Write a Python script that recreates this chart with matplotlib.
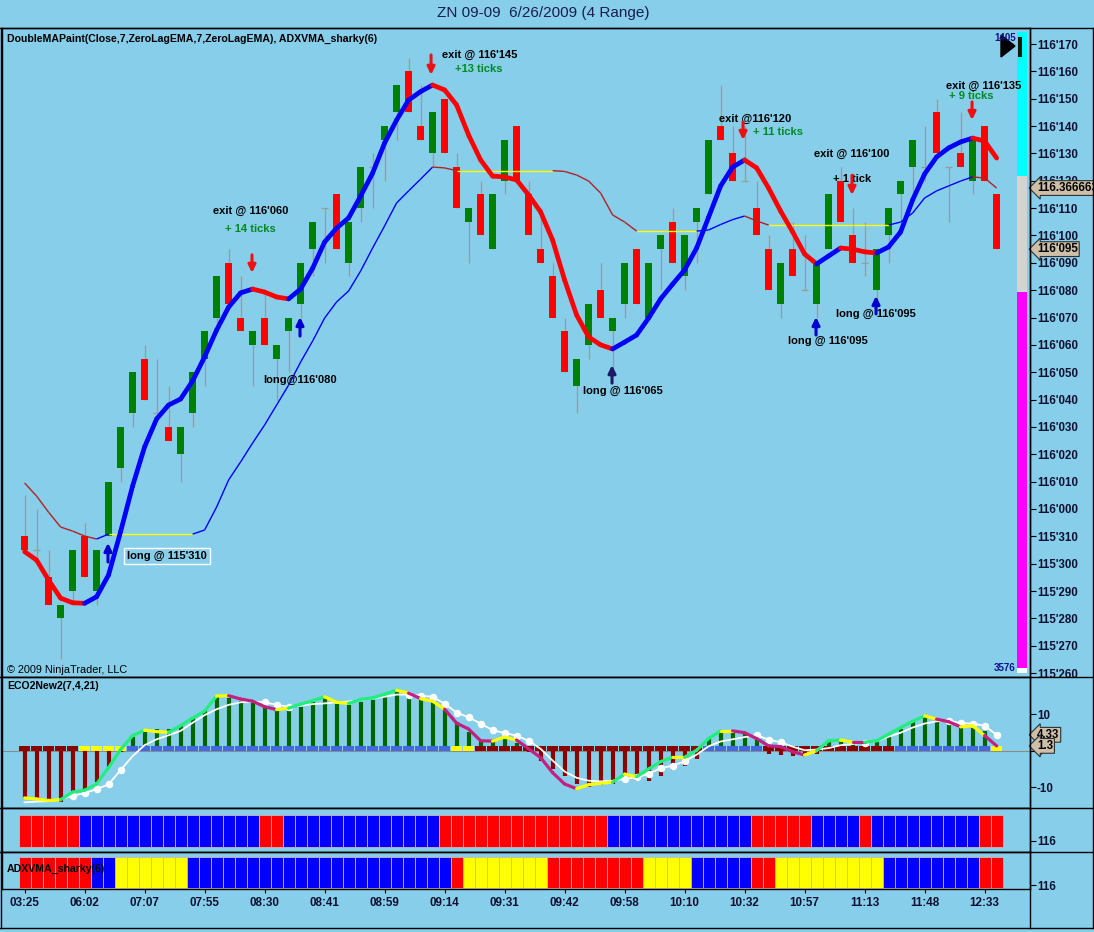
import numpy as np
import matplotlib
matplotlib.use("Agg")
import matplotlib.pyplot as plt
from matplotlib.collections import LineCollection
from matplotlib.patches import Rectangle, Polygon

# ---- price bars (prices in 32nds: 116'095 -> 116*32 + 9.5) ----
opens = [3711, 3710.5, 3709.5, 3708, 3709, 3711, 3709, 3711, 3713.5, 3715.5,
         3717.5, 3715.5, 3715, 3714, 3715.5, 3717.5, 3719, 3721, 3719, 3718,
         3719, 3717.5, 3718.5, 3719.5, 3721.5, 3723, 3723.5, 3721, 3723, 3724.5,
         3725.5, 3726.5, 3728, 3726, 3725, 3727, 3724.5, 3722.5, 3723.5, 3721.5,
         3724, 3726, 3723.5, 3721.5, 3720.5, 3718.5, 3716.5, 3718, 3720, 3718.5,
         3719.5, 3721.5, 3719, 3721.5, 3722.5, 3720.5, 3722.5, 3723.5, 3726, 3725,
         3724, 3723, 3721.5, 3719.5, 3721.5, 3720, 3719.5, 3721.5, 3724, 3722,
         3721, 3720, 3722, 3723.5, 3724.5, 3724.5, 3726.5, 3724.5, 3725, 3724,
         3726, 3723.5]
highs = [3712.5, 3712, 3710.5, 3708.5, 3710.5, 3711.5, 3710.5, 3713, 3715, 3717,
         3718, 3717.5, 3716.5, 3715, 3717, 3718.5, 3720.5, 3721.5, 3720.5, 3718.5,
         3720, 3718, 3719, 3721, 3722.5, 3723, 3723.5, 3722.5, 3724.5, 3725,
         3726, 3727.5, 3728.5, 3727.5, 3726.5, 3727, 3725, 3723, 3724, 3723.5,
         3725.5, 3726, 3724, 3723, 3721, 3719, 3717.5, 3719.5, 3721, 3719,
         3721, 3721.5, 3721, 3722, 3723, 3722, 3723, 3725.5, 3727.5, 3726,
         3726, 3724, 3722, 3721, 3722.5, 3722, 3721, 3723.5, 3724.5, 3723,
         3722.5, 3721.5, 3723, 3724, 3725.5, 3726, 3727, 3724.5, 3726.5, 3725.5,
         3726, 3723.5]
lows = [3710.5, 3710, 3708.5, 3706.5, 3708.5, 3709.5, 3708.5, 3711, 3713, 3715,
        3716, 3715.5, 3714.5, 3713, 3715, 3716.5, 3718.5, 3719.5, 3718.5, 3716.5,
        3718, 3716, 3717, 3719, 3720.5, 3721, 3721.5, 3720.5, 3722.5, 3723,
        3724, 3725.5, 3726.5, 3725.5, 3724.5, 3725, 3723, 3721, 3722, 3721.5,
        3723.5, 3724, 3722, 3721, 3719, 3717, 3715.5, 3717.5, 3719, 3717,
        3719, 3719.5, 3719, 3720, 3721, 3720, 3721, 3723.5, 3725.5, 3724,
        3724, 3722, 3720, 3719, 3720.5, 3720, 3719, 3721.5, 3722.5, 3721,
        3720.5, 3719.5, 3721, 3722, 3723.5, 3724, 3725, 3722.5, 3724.5, 3723.5,
        3724, 3721.5]
closes = [3710.5, 3710.5, 3708.5, 3708.5, 3710.5, 3709.5, 3710.5, 3713, 3715, 3717,
          3716, 3715.5, 3714.5, 3715, 3717, 3718.5, 3720.5, 3719.5, 3718.5, 3718.5,
          3718, 3718, 3719, 3721, 3722.5, 3723, 3721.5, 3722.5, 3724.5, 3724.5,
          3726, 3727.5, 3726.5, 3725.5, 3726.5, 3725, 3723, 3723, 3722, 3723.5,
          3725.5, 3724, 3722, 3721, 3719, 3717, 3717.5, 3719.5, 3719, 3719,
          3721, 3719.5, 3721, 3722, 3721, 3722, 3723, 3725.5, 3725.5, 3724,
          3724, 3722, 3720, 3721, 3720.5, 3720, 3721, 3723.5, 3722.5, 3721,
          3721, 3721.5, 3723, 3724, 3725.5, 3724.5, 3725, 3724.5, 3724.5, 3725.5,
          3724, 3721.5]

# DoubleMAPaint (ZeroLagEMA 7) and ADXVMA_sharky(6)
fast_ma = [3710.44, 3710.13, 3709.40, 3708.74, 3708.57, 3708.55, 3708.79, 3709.59, 3711.17, 3712.84,
           3714.27, 3715.29, 3715.80, 3716.02, 3716.68, 3717.56, 3718.54, 3719.38, 3719.90, 3720.04,
           3719.93, 3719.75, 3719.68, 3720.04, 3720.80, 3721.76, 3722.27, 3722.64, 3723.44, 3724.28,
           3725.38, 3726.22, 3726.95, 3727.26, 3727.50, 3727.32, 3726.77, 3725.67, 3724.76, 3724.17,
           3724.14, 3724.03, 3723.48, 3722.86, 3721.83, 3720.37, 3719.09, 3718.29, 3718.00, 3717.85,
           3718.10, 3718.36, 3718.98, 3719.68, 3720.22, 3720.74, 3721.54, 3722.67, 3723.81, 3724.50,
           3724.76, 3724.47, 3723.73, 3722.89, 3722.13, 3721.32, 3720.96, 3721.25, 3721.54, 3721.50,
           3721.40, 3721.36, 3721.58, 3722.13, 3723.30, 3724.25, 3724.87, 3725.20, 3725.42, 3725.56,
           3725.45, 3724.83]
adxvma = [3712.95, 3712.47, 3711.88, 3711.34, 3711.19, 3711.01, 3710.90, 3711.08, 3711.08, 3711.08,
          3711.08, 3711.08, 3711.08, 3711.08, 3711.08, 3711.23, 3712.07, 3713.06, 3713.72, 3714.41,
          3715.07, 3715.80, 3716.53, 3717.37, 3718.14, 3718.98, 3719.57, 3719.97, 3720.70, 3721.54,
          3722.35, 3723.19, 3723.63, 3724.06, 3724.50, 3724.47, 3724.37, 3724.37, 3724.37, 3724.37,
          3724.37, 3724.37, 3724.37, 3724.37, 3724.37, 3724.34, 3724.21, 3723.99, 3723.55, 3722.75,
          3722.49, 3722.16, 3722.16, 3722.16, 3722.16, 3722.16, 3722.16, 3722.20, 3722.40, 3722.58,
          3722.71, 3722.53, 3722.38, 3722.38, 3722.38, 3722.38, 3722.38, 3722.38, 3722.38, 3722.38,
          3722.38, 3722.38, 3722.38, 3722.49, 3722.82, 3723.37, 3723.63, 3723.81, 3723.99, 3724.14,
          3724.10, 3723.73322]

# ECO2New2(7,4,21)
eco_hist = [-13.2, -13.6, -13.9, -14.1, -12.3, -10.4, -8.6, -4.5, -0.5, 3.6,
            5.0, 5.9, 5.9, 6.8, 9.1, 10.9, 14.8, 14.5, 13.6, 13.2,
            11.8, 10.9, 10.9, 11.8, 13.2, 14.7, 12.7, 12.5, 13.2, 13.8,
            14.7, 16.8, 15.4, 14.1, 13.6, 11.4, 7.7, 5.0, 2.7, 2.7,
            3.6, 2.2, -0.5, -2.7, -5.0, -6.8, -9.1, -10.0, -9.5, -9.1,
            -8.2, -8.2, -8.2, -6.8, -5.4, -4.1, -2.3, 3.2, 5.0, 5.4,
            4.5, 3.2, -0.8, -1.2, -1.5, -1.5, -0.8, 2.7, 2.3, 1.8,
            1.8, 2.3, 4.1, 5.9, 8.2, 9.5, 8.6, 8.2, 6.3, 6.8,
            5.4, 0.5]
eco_line = [-12.9, -13.2, -13.6, -13.4, -11.3, -10.8, -9.1, -4.6, 0.3, 4.1,
            5.6, 5.2, 5.0, 6.8, 8.9, 10.8, 14.9, 15.0, 14.1, 13.5,
            12.0, 11.2, 11.6, 12.7, 13.6, 14.7, 13.2, 12.9, 14.0, 14.4,
            15.4, 16.5, 15.7, 14.2, 13.5, 11.3, 7.5, 5.9, 2.7, 2.6,
            3.7, 2.9, 0.5, -1.9, -6.0, -9.1, -10.4, -9.3, -8.9, -8.6,
            -6.4, -7.1, -5.0, -3.0, -1.8, -1.8, 0.1, 3.3, 5.4, 5.4,
            4.9, 3.3, 1.3, 1.1, -0.3, -1.2, 0.0, 2.7, 2.9, 2.3,
            2.3, 2.7, 4.5, 6.3, 8.0, 9.5, 8.6, 7.9, 6.5, 6.8,
            4.1, 1.3]
eco_signal = [-14.1, -13.9, -13.8, -13.3, -12.3, -11.6, -10.5, -9.2, -5.3, -1.5,
              1.5, 3.1, 4.2, 5.4, 7.6, 9.7, 11.3, 12.5, 13.2, 13.4,
              13.2, 12.5, 12.0, 12.3, 12.7, 12.9, 13.2, 13.4, 13.8, 14.3,
              14.7, 15.3, 15.3, 15.0, 14.7, 12.8, 10.4, 9.1, 7.4, 5.6,
              4.8, 4.1, 2.7, 0.5, -2.7, -5.7, -7.4, -8.2, -8.4, -8.2,
              -7.7, -7.3, -6.3, -4.8, -4.1, -2.9, -1.1, 1.2, 2.5, 3.1,
              3.7, 4.2, 3.0, 2.3, 1.1, 0.1, 0.3, 0.7, 1.5, 1.8,
              2.1, 2.6, 3.8, 4.9, 6.3, 7.4, 8.0, 8.2, 7.5, 7.4,
              6.8, 4.33]
# colour of each line segment (g rising, m falling, y turning)
eco_line_colors = ("yyyggggggg" "yyggggymmm" "mygggyyggg" "gymyymmmmy"
                   "ymmmmmyyyg" "ygggygggym" "mmmmmyggym" "gggggymmyy" "m")
eco_dots = [4, 5, 6, 7, 8, 20, 21, 22, 32, 33, 34, 35, 36, 37, 38, 39, 40, 41, 42,
            50, 51, 52, 53, 54, 55, 61, 62, 63, 70, 77, 78, 79, 80, 81]
eco_squares = [("r", 5), ("y", 4), ("b", 27), ("y", 2), ("r", 19), ("b", 5),
               ("r", 11), ("b", 8), ("y", 1)]

# paint bars
strip_top = [("r", 5), ("b", 15), ("r", 2), ("b", 13), ("r", 14), ("b", 12),
             ("r", 5), ("b", 4), ("r", 1), ("b", 9), ("r", 2)]
strip_bottom = [("r", 6), ("b", 2), ("y", 6), ("b", 22), ("r", 1), ("y", 7), ("r", 8),
                ("y", 4), ("b", 5), ("r", 2), ("y", 9), ("b", 8), ("r", 2)]

time_bars = [0, 5, 10, 15, 20, 25, 30, 35, 40, 45, 50, 55, 60, 65, 70, 75, 80]
time_labels = ["03:25", "06:02", "07:07", "07:55", "08:30", "08:41", "08:59", "09:14",
               "09:31", "09:42", "09:58", "10:10", "10:32", "10:57", "11:13", "11:48", "12:33"]

# trade notes: text, bar, price, colour
notes = [("exit @ 116'145", 34.78, 3728.60, "black"),
         ("+13 ticks", 35.87, 3728.09, "#008a20"),
         ("exit @ 116'060", 15.70, 3722.90, "black"),
         ("+ 14 ticks", 16.70, 3722.24, "#008a20"),
         ("long@116'080", 19.87, 3716.71, "black"),
         ("long @ 116'065", 46.53, 3716.31, "black"),
         ("exit @116'120", 57.87, 3726.26, "black"),
         ("+ 11 ticks", 60.70, 3725.78, "#008a20"),
         ("exit @ 116'100", 65.78, 3724.98, "black"),
         ("+ 1 tick", 67.37, 3724.06, "black"),
         ("long @ 116'095", 63.62, 3718.14, "black"),
         ("long @ 116'095", 67.62, 3719.13, "black"),
         ("exit @ 116'135", 76.78, 3727.46, "black"),
         ("+ 9 ticks", 77.03, 3727.10, "#008a20")]
# arrows: bar, tail price, tip price, colour
arrows = [(33.87, 3728.60, 3727.87, "#ee1111"),
          (18.95, 3721.29, 3720.63, "#ee1111"),
          (22.95, 3718.32, 3719.02, "#0000cc"),
          (6.95, 3710.06, 3710.76, "#0000cc"),
          (48.95, 3716.60, 3717.26, "#1c1c66"),
          (59.87, 3726.15, 3725.49, "#ee1111"),
          (68.95, 3724.20, 3723.48, "#ee1111"),
          (65.95, 3718.36, 3719.02, "#0000cc"),
          (70.95, 3719.13, 3719.79, "#0000cc"),
          (78.95, 3726.88, 3726.22, "#ee1111")]

plt.rcParams["font.family"] = ["Liberation Sans", "DejaVu Sans"]
plt.rcParams["font.weight"] = "bold"

BG = "#87ceeb"
INK = "#101030"
W, H = 1094, 932
PAINT = {"r": "#ff0000", "b": "#0000ff", "y": "#ffff00"}
SQ = {"r": "#8b0000", "b": "#4169e1", "y": "#ffff00"}
ECOC = {"g": "#22ee7a", "y": "#ffff00", "m": "#c4207f"}
TICK_FS = 8.3
NOTE_FS = 8.0


def fmt32(v):
    whole = int(v // 32)
    frac = v - whole * 32
    return f"{whole}'{int(round(frac * 10)):03d}"


def expand(runs):
    out = []
    for c, n in runs:
        out += [c] * n
    return out


def rect(top, bottom, left=2, right=1030):
    return [left / W, 1 - bottom / H, (right - left) / W, (bottom - top) / H]


fig = plt.figure(figsize=(W / 100, H / 100), dpi=100, facecolor=BG)
ax = fig.add_axes(rect(28, 677))
ax_eco = fig.add_axes(rect(677, 808), sharex=ax)
ax_s1 = fig.add_axes(rect(808, 852), sharex=ax)
ax_s2 = fig.add_axes(rect(852, 889), sharex=ax)

# pixel overlay for frame and decorations
ov = fig.add_axes([0, 0, 1, 1], zorder=10)
ov.set_xlim(0, W)
ov.set_ylim(H, 0)
ov.axis("off")
ov.patch.set_alpha(0)

x = np.arange(len(closes))
o = np.array(opens)
c = np.array(closes)

for a in (ax, ax_eco, ax_s1, ax_s2):
    a.set_facecolor(BG)
    for s in a.spines.values():
        s.set_color("black")
        s.set_linewidth(1)
    a.yaxis.tick_right()
    a.tick_params(axis="y", direction="out", length=4, pad=1, labelsize=TICK_FS,
                  colors="black", labelcolor=INK)
    a.tick_params(axis="x", bottom=False, labelbottom=False)
ax.set_xlim(-1.883, 83.78)

# ---- price panel ----
ax.vlines(x, lows, highs, color="#9a9a9a", lw=0.9, zorder=2)
up = c > o
dn = c < o
ax.bar(x[up], (c - o)[up], bottom=o[up], width=0.62, color="#008000", zorder=3)
ax.bar(x[dn], (o - c)[dn], bottom=c[dn], width=0.62, color="#ff0000", zorder=3)
dj = c == o
ax.hlines(o[dj], x[dj] - 0.31, x[dj] + 0.31, color="#9a9a9a", lw=0.9, zorder=3)

pts = np.column_stack([x, adxvma])
segs = np.stack([pts[:-1], pts[1:]], axis=1)
d = np.diff(adxvma)
cols = ["#0000ff" if v > 1e-6 else ("#b22222" if v < -1e-6 else "#ffff00") for v in d]
ax.add_collection(LineCollection(segs, colors=cols, linewidths=1.0, zorder=4))

pts = np.column_stack([x, fast_ma])
segs = np.stack([pts[:-1], pts[1:]], axis=1)
cols = ["#0000ff" if v > 0 else "#ff0000" for v in np.diff(fast_ma)]
ax.add_collection(LineCollection(segs, colors=cols, linewidths=3.4,
                                 capstyle="round", joinstyle="round", zorder=5))

ax.set_ylim(3705.856, 3729.585)
ticks = np.arange(3706, 3730)
ax.set_yticks(ticks)
ax.set_yticklabels([fmt32(t) for t in ticks])

# bid/ask volume column at the right edge (drawn under the trade notes)
for top, hgt, col in ((32, 143.7, "#00ffff"), (175.7, 116, "#d3d3d3"),
                      (291.7, 376.3, "#ff00ff"), (668, 5, "white")):
    ax.add_patch(Rectangle((1017, top), 10, hgt, color=col, lw=0,
                           transform=ov.transData, clip_on=False, zorder=6))

for txt, bx, py, col in notes:
    ax.text(bx, py, txt, color=col, fontsize=NOTE_FS, ha="left", va="center", zorder=7)
ax.text(8.53, 3710.28, "long @ 115'310", fontsize=NOTE_FS, ha="left", va="center", zorder=7,
        bbox=dict(boxstyle="square,pad=0.3", fc="none", ec="white", lw=1))
for bx, p0, p1, col in arrows:
    ax.annotate("", xy=(bx, p1), xytext=(bx, p0),
                arrowprops=dict(arrowstyle="-|>,head_length=0.45,head_width=0.22",
                                color=col, lw=2.2, mutation_scale=10,
                                shrinkA=0, shrinkB=0), zorder=7)

marker = dict(boxstyle="larrow,pad=0.12", fc="#cdbfa8", ec="#303030", lw=0.8)
ax.annotate(f"{adxvma[-1] / 32:.6f}", xy=(1, adxvma[-1]), xycoords=("axes fraction", "data"),
            xytext=(5, 0), textcoords="offset points", va="center", ha="left",
            fontsize=TICK_FS, color="black", bbox=marker, annotation_clip=False, zorder=8)
ax.annotate(fmt32(closes[-1]), xy=(1, closes[-1]), xycoords=("axes fraction", "data"),
            xytext=(5, 0), textcoords="offset points", va="center", ha="left",
            fontsize=TICK_FS, color="black", bbox=marker, annotation_clip=False, zorder=8)

# ---- ECO panel ----
ax_eco.axhline(0, color="#8c8c8c", lw=0.8, zorder=1)
h = np.array(eco_hist)
ax_eco.vlines(x, 0, h, colors=["#006400" if v > 0 else "#8b0000" for v in h],
              lw=3.0, zorder=2)
ax_eco.bar(x, 1.4, bottom=-0.2, width=0.9, color=[SQ[k] for k in expand(eco_squares)],
           zorder=3)
pts = np.column_stack([x, eco_line])
segs = np.stack([pts[:-1], pts[1:]], axis=1)
ax_eco.add_collection(LineCollection(segs, colors=[ECOC[k] for k in eco_line_colors],
                                     linewidths=2.3, capstyle="round", zorder=5))
ax_eco.plot(x, eco_signal, color="white", lw=1.3, zorder=4)
ax_eco.plot(x[eco_dots], np.array(eco_signal)[eco_dots], "o", color="white", ms=4.4,
            zorder=4)
ax_eco.set_ylim(-15.65, 20.1)
ax_eco.set_yticks([10, 0, -10])
ax_eco.set_yticklabels(["10", "0", "-10"])
for v in (eco_signal[-1], eco_line[-1]):
    ax_eco.annotate(f"{v:g}", xy=(1, v), xycoords=("axes fraction", "data"),
                    xytext=(5, 0), textcoords="offset points", va="center", ha="left",
                    fontsize=TICK_FS, color="black", bbox=marker, annotation_clip=False,
                    zorder=8)

# ---- paint bars ----
ax_s1.bar(x, 0.727, bottom=0.114, width=1.0, color=[PAINT[k] for k in expand(strip_top)],
          edgecolor="#d0b4b4", lw=0.6)
ax_s1.set_ylim(0, 1)
ax_s1.set_yticks([0.257])
ax_s1.set_yticklabels(["116"])
ax_s2.bar(x, 0.838, bottom=0.027, width=1.0, color=[PAINT[k] for k in expand(strip_bottom)],
          edgecolor="#d0b4b4", lw=0.6)
ax_s2.set_ylim(0, 1)
ax_s2.set_yticks([0.108])
ax_s2.set_yticklabels(["116"])
ax_s2.set_xticks(time_bars)
ax_s2.set_xticklabels(time_labels)
ax_s2.tick_params(axis="x", bottom=True, labelbottom=True, direction="out", length=3,
                  pad=2.5, labelsize=8.4, labelcolor=INK)

# ---- frame, titles and decorations ----
for yy in (28, 677, 808, 852, 928):
    ov.plot([0, W], [yy, yy], color="black", lw=1)
ov.plot([1030, 1030], [28, 928], color="black", lw=1)
ov.plot([1, 1], [28, 928], color="black", lw=1)
ov.plot([1093, 1093], [28, 928], color="black", lw=1)

ov.text(543, 13, "ZN 09-09  6/26/2009 (4 Range)", ha="center", va="center",
        fontsize=11, fontweight="normal", color="#1c1c50")
ov.text(7, 39, "DoubleMAPaint(Close,7,ZeroLagEMA,7,ZeroLagEMA), ADXVMA_sharky(6)",
        ha="left", va="center", fontsize=7.6, color="black")
ov.text(7, 686, "ECO2New2(7,4,21)", ha="left", va="center", fontsize=7.6, color="black")
ov.text(7, 869, "ADXVMA_sharky(6)", ha="left", va="center", fontsize=7.6, color="black")
ov.text(7, 670, "\u00a9 2009 NinjaTrader, LLC", ha="left", va="center", fontsize=7.8,
        fontweight="normal", color="black")

ov.add_patch(Polygon([(1001, 35), (1001, 57), (1015, 46)], closed=True, color="black"))
ov.add_patch(Rectangle((1018, 37), 3.5, 20, color="#0a200a", lw=0))
ov.text(1005, 38, "1405", ha="center", va="center", fontsize=7, color="#10108a")
ov.text(1005, 668, "3576", ha="center", va="center", fontsize=7, color="#10108a")

fig.savefig("out.png", dpi=100, facecolor=BG)
